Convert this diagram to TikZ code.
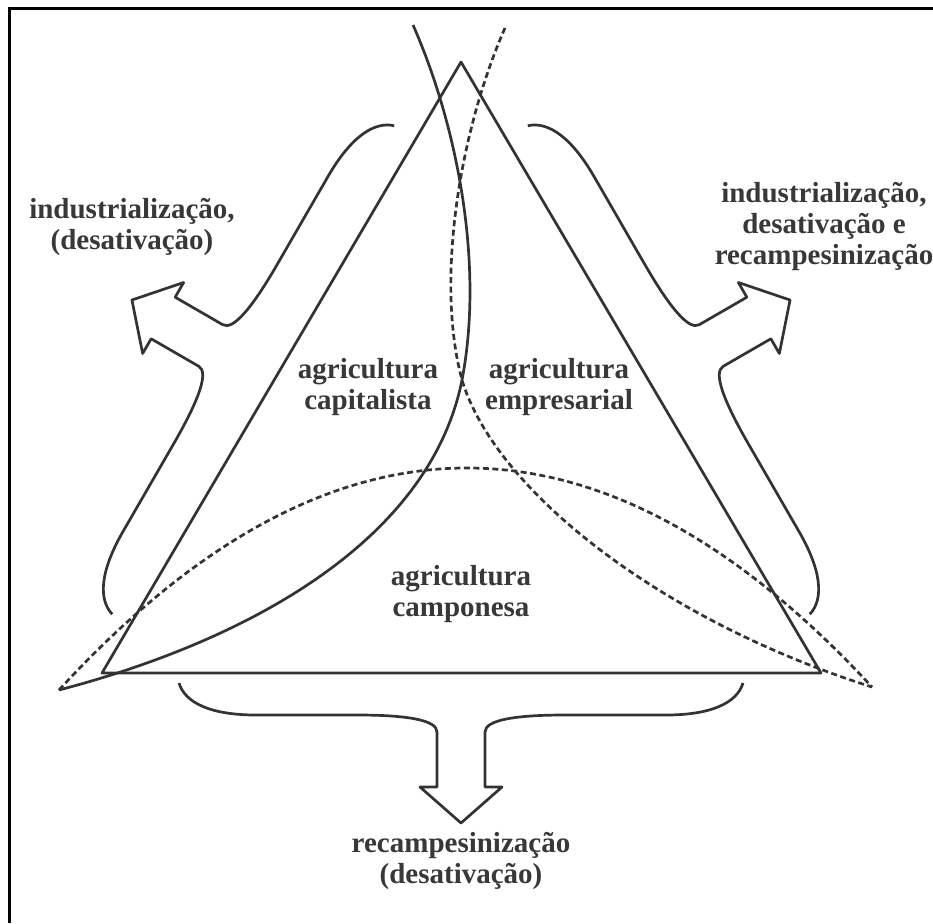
\documentclass[tikz,border=0pt]{standalone}
\usepackage{fontspec}
\setmainfont{Liberation Serif}
\definecolor{lineGray}{HTML}{333333}
\definecolor{textGray}{HTML}{383838}
\tikzset{
  outline/.style={draw=lineGray, line width=2.7pt, line join=round},
  zone/.style={dash pattern=on 6pt off 3.5pt},
  txt/.style={text=textGray, font=\fontsize{29pt}{31pt}\selectfont\bfseries, align=center, inner sep=0pt},
  bracearrow/.pic={
    \draw[outline] (-282,-32) .. controls (-276,-12) and (-250,0) .. (-205,0)
      -- (-104,0) .. controls (-54,0) and (-24,5) .. (-24,17)
      -- (-24,72) -- (-41,72) -- (0,108) -- (41,72) -- (24,72) -- (24,17)
      .. controls (24,5) and (54,0) .. (104,0) -- (205,0)
      .. controls (250,0) and (276,-12) .. (282,-32);
  }
}

\begin{document}
\begin{tikzpicture}[x=1pt, y=-1pt]
  \useasboundingbox (0,0) rectangle (933,923);
  % frame
  \draw[line width=3pt] (9,923) -- (9,9) -- (933,9);

  % triangle
  \coordinate (apex) at (461,62);
  \coordinate (baseW) at (102,673);
  \coordinate (baseE) at (821,673);
  \draw[outline] (apex) -- (baseW) -- (baseE) -- cycle;

  % boundaries between the three kinds of agriculture
  \coordinate (meet) at (462,380);
  \coordinate (capTop) at (413,25);
  \coordinate (capEnd) at (59,690);
  \coordinate (empTop) at (505,28);
  \coordinate (empEnd) at (872,687);
  \draw[outline] (capTop) .. controls (455,120) and (485,260) .. (meet)
    .. controls (430,540) and (250,640) .. (capEnd);
  \draw[outline, zone] (empTop) .. controls (460,130) and (435,280) .. (meet)
    .. controls (495,490) and (660,620) .. (empEnd);
  \draw[outline, zone] (capEnd) .. controls (330,395) and (601,394) .. (empEnd);

  % braces with arrows
  \pic at (461,715) {bracearrow};
  \pic[rotate=-120] at (225.5,354) {bracearrow};
  \pic[rotate=120] at (696.5,354) {bracearrow};

  % texts
  \node[txt] (capitalista) at (368,387) {agricultura\\capitalista};
  \node[txt] (empresarial) at (559,387) {agricultura\\empresarial};
  \node[txt] (camponesa) at (461,594) {agricultura\\camponesa};
  \node[txt] (saidaW) at (132,227) {industrialização,\\(desativação)};
  \node[txt] (saidaE) at (824,226) {industrialização,\\desativação e\\recampesinização};
  \node[txt] (saidaS) at (461,861) {recampesinização\\(desativação)};
\end{tikzpicture}
\end{document}
